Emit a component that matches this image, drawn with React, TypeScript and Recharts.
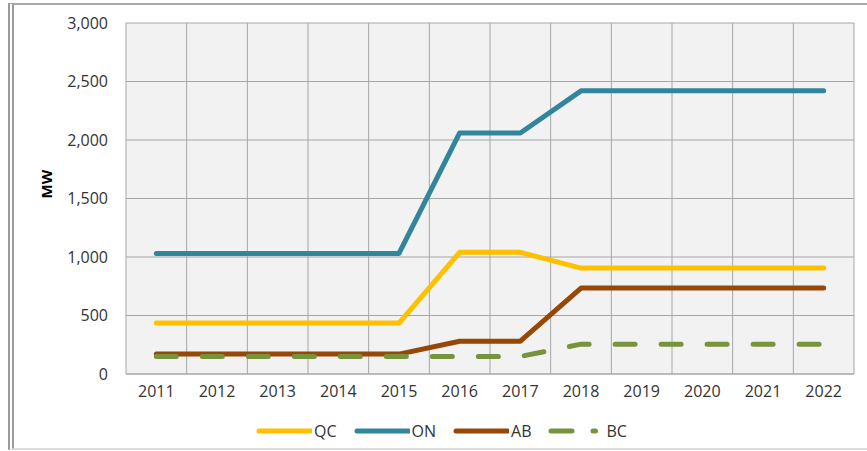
import { LineChart, Line, XAxis, YAxis, CartesianGrid } from 'recharts';

// Installed capacity by province, MW
const years = ['2011', '2012', '2013', '2014', '2015', '2016', '2017', '2018', '2019', '2020', '2021', '2022'];
const qc = [435, 435, 435, 435, 435, 1040, 1040, 905, 905, 905, 905, 905];
const on = [1030, 1030, 1030, 1030, 1030, 2060, 2060, 2420, 2420, 2420, 2420, 2420];
const ab = [170, 170, 170, 170, 170, 280, 280, 735, 735, 735, 735, 735];
const bc = [150, 150, 150, 150, 150, 150, 150, 255, 255, 255, 255, 255];
const yTicks = [0, 500, 1000, 1500, 2000, 2500, 3000];

const COLORS = { QC: '#FFC000', ON: '#31859C', AB: '#974706', BC: '#77933C' };
const FONT = '"Open Sans", sans-serif';
const LINE_W = 5;

const data = years.map((year, i) => ({ year, QC: qc[i], ON: on[i], AB: ab[i], BC: bc[i] }));

function LegendItem({ name, color, dashed }: { name: string; color: string; dashed?: boolean }) {
  return (
    <div style={{ display: 'flex', alignItems: 'center', marginRight: 17 }}>
      <svg width={56} height={8} style={{ marginRight: 2 }}>
        <line
          x1={3} y1={4} x2={dashed ? 47.5 : 55} y2={4}
          stroke={color} strokeWidth={LINE_W} strokeLinecap="round"
          strokeDasharray={dashed ? '21 21' : undefined}
        />
      </svg>
      <span>{name}</span>
    </div>
  );
}

export default function App() {
  return (
    <div style={{ position: 'absolute', left: 0, top: 0, width: 867, height: 451, background: '#fff', fontFamily: FONT }}>
      {/* outer chart frame */}
      <div style={{
        position: 'absolute', left: 8, top: 3, width: 870, height: 443,
        borderLeft: '6px double #9a9a9a', borderTop: '2px solid #a8a8a8', borderBottom: '2px solid #dcdcdc',
      }} />
      <LineChart
        width={867}
        height={451}
        data={data}
        margin={{ top: 23, right: 13, left: 0, bottom: 47 }}
        style={{ position: 'absolute', left: 0, top: 0 }}
      >
        <CartesianGrid
          fill="#f2f2f2"
          stroke="#a6a6a6"
          strokeWidth={1}
          verticalCoordinatesGenerator={({ offset }: any) =>
            Array.from({ length: years.length + 1 }, (_, i) => offset.left + (i * offset.width) / years.length)}
        />
        <XAxis
          dataKey="year"
          scale="band"
          height={30}
          tickLine={false}
          axisLine={{ stroke: '#a6a6a6' }}
          tickMargin={6}
          tick={{ fontSize: 16, fill: '#333', fontFamily: FONT }}
          interval={0}
        />
        <YAxis
          width={126}
          domain={[0, 3000]}
          ticks={yTicks}
          tickLine={false}
          axisLine={false}
          tickMargin={12}
          tickFormatter={(v: number) => v.toLocaleString('en-US')}
          tick={{ fontSize: 16, fill: '#333', fontFamily: FONT }}
          label={{ value: 'MW', angle: -90, position: 'insideLeft', offset: 47, style: { fontSize: 15, fontWeight: 700, fill: '#000', fontFamily: FONT } }}
        />
        <Line type="linear" dataKey="QC" stroke={COLORS.QC} strokeWidth={LINE_W} dot={false} strokeLinejoin="round" strokeLinecap="round" isAnimationActive={false} />
        <Line type="linear" dataKey="ON" stroke={COLORS.ON} strokeWidth={LINE_W} dot={false} strokeLinejoin="round" strokeLinecap="round" isAnimationActive={false} />
        <Line type="linear" dataKey="AB" stroke={COLORS.AB} strokeWidth={LINE_W} dot={false} strokeLinejoin="round" strokeLinecap="round" isAnimationActive={false} />
        <Line type="linear" dataKey="BC" stroke={COLORS.BC} strokeWidth={LINE_W} dot={false} strokeLinecap="round" strokeDasharray="20 26" isAnimationActive={false} />
      </LineChart>
      <div style={{
        position: 'absolute', left: 256, top: 420, display: 'flex', fontSize: 16, color: '#333', lineHeight: '22px',
      }}>
        <LegendItem name="QC" color={COLORS.QC} />
        <LegendItem name="ON" color={COLORS.ON} />
        <LegendItem name="AB" color={COLORS.AB} />
        <LegendItem name="BC" color={COLORS.BC} dashed />
      </div>
    </div>
  );
}
